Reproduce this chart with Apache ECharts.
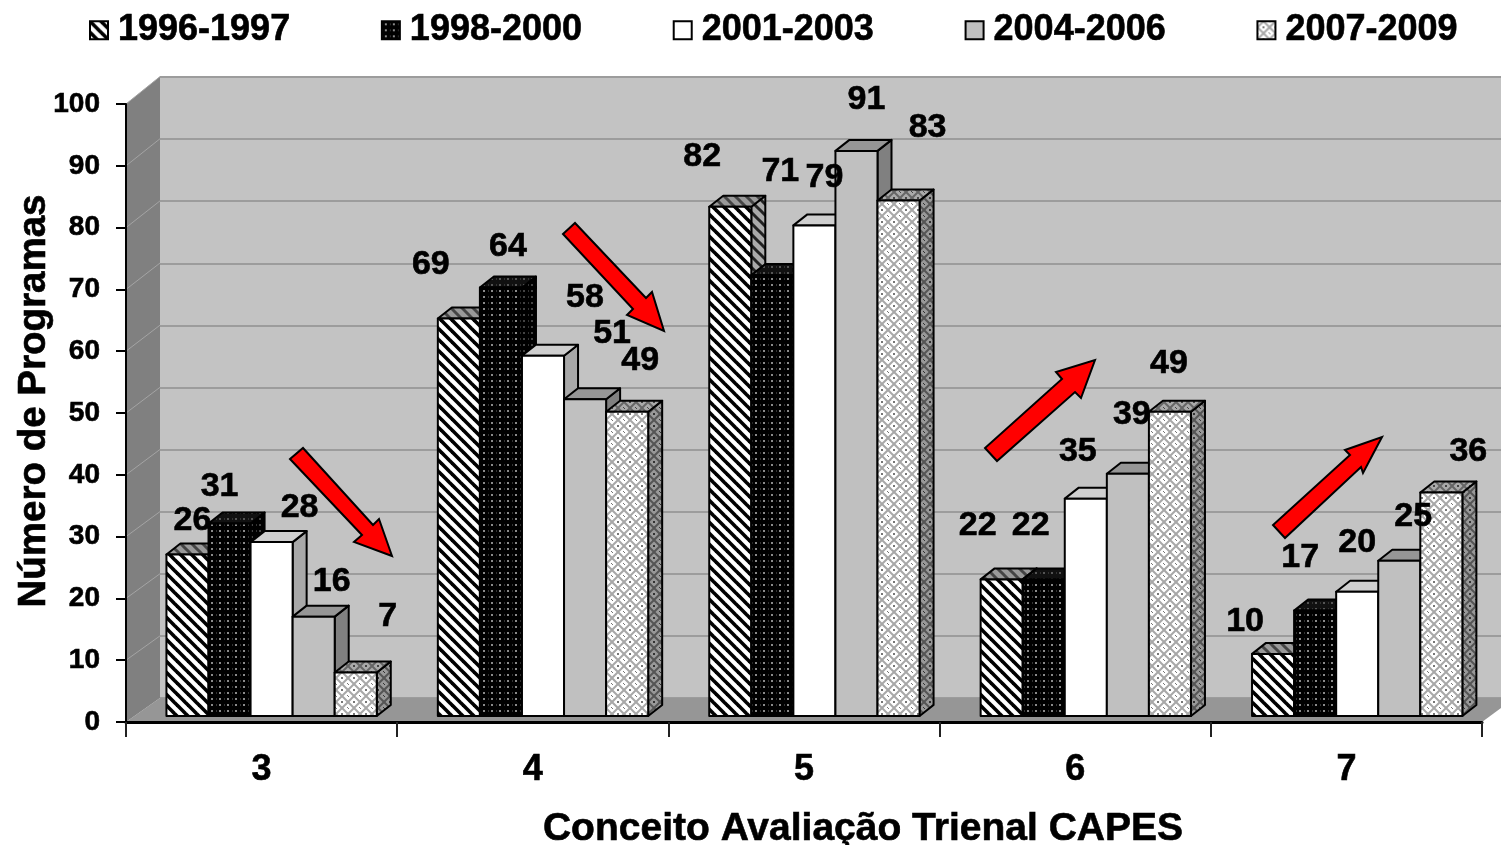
<!DOCTYPE html>
<html><head><meta charset="utf-8">
<style>html,body{margin:0;padding:0;background:#fff}#c{width:1501px;height:845px}</style>
<script src="https://cdn.jsdelivr.net/npm/echarts@6/dist/echarts.min.js"></script>
</head><body><div id="c"></div>
<script>
// ---- data ----
const categories = ['3','4','5','6','7'];
const periods = ['1996-1997','1998-2000','2001-2003','2004-2006','2007-2009'];
const tickLabels = [0,10,20,30,40,50,60,70,80,90,100];
const v1996 = [26,64,82,22,10];
const v1998 = [31,69,71,22,17];
const v2001 = [28,58,79,35,20];
const v2004 = [16,51,91,39,25];
const v2007 = [7,49,83,49,36];
// printed labels (the source prints 69 on the 64 bar and 64 on the 69 bar)
const l1996 = [26,69,82,22,10];
const l1998 = [31,64,71,22,17];
const l2001 = [28,58,79,35,20];
const l2004 = [16,51,91,39,25];
const l2007 = [7,49,83,49,36];
const values = [v1996,v1998,v2001,v2004,v2007];
const printed = [l1996,l1998,l2001,l2004,l2007];
// hand-placed label offsets from each bar's top centre [period][category]
const labelOffsets = [
 [[5,-34],[-28,-54],[-28,-50],[-24,-54],[-28,-32]],
 [[-10,-37],[7,-41],[8,-103],[-13,-54],[-15,-53]],
 [[28,-34],[42,-58],[10,-48],[-8,-47],[0,-49]],
 [[18,-35],[27,-66],[10,-51],[4,-59],[14,-44]],
 [[32,-56],[13,-51],[29,-73],[-1,-48],[27,-41]]
];
const FONT = '"Liberation Sans", Arial, sans-serif';

// ---- patterns ----
function tile(w,h,draw){const c=document.createElement('canvas');c.width=w;c.height=h;draw(c.getContext('2d'),w,h);return {image:c,repeat:'repeat'};}
function stripes(bg,fg,lw){return tile(11,11,(g,w,h)=>{g.fillStyle=bg;g.fillRect(0,0,w,h);g.strokeStyle=fg;g.lineWidth=lw;
  for(let i=-1;i<=1;i++){g.beginPath();g.moveTo(i*w-2,-2);g.lineTo(i*w+w+2,h+2);g.stroke();}});}
function dots(bg,fg){return tile(8,6,(g,w,h)=>{g.fillStyle=bg;g.fillRect(0,0,w,h);g.fillStyle=fg;g.fillRect(3,2,2,2);g.fillStyle='#333';g.fillRect(0,2,1,2);});}
function mesh(bg,fg,dot){return tile(12,12,(g,w,h)=>{g.fillStyle=bg;g.fillRect(0,0,w,h);g.strokeStyle=fg;g.lineWidth=2;
  [[0,6,6,0],[6,0,12,6],[12,6,6,12],[6,12,0,6]].forEach(p=>{g.beginPath();g.moveTo(p[0],p[1]);g.lineTo(p[2],p[3]);g.stroke();});
  g.fillStyle=dot;g.fillRect(5,5,2,2);g.fillRect(0,0,1,1);g.fillRect(11,11,1,1);});}
const faces = [
 {front:stripes('#fff','#000',3.6), side:stripes('#aaa','#222',3), top:stripes('#999','#444',3)},
 {front:dots('#000','#8a8a8a'), side:dots('#000','#444'), top:dots('#111','#555')},
 {front:'#ffffff', side:'#a8a8a8', top:'#cfcfcf'},
 {front:'#c0c0c0', side:'#808080', top:'#969696'},
 {front:mesh('#fff','#a8a8a8','#777'), side:mesh('#999','#555','#333'), top:mesh('#aaa','#666','#444')}
];

// ---- 3D drawing ----
const DEPTH_X = 14, DEPTH_Y = -11;
function barRender(s){
  return function(params, api){
    const c = api.value(0), v = api.value(1);
    const band = api.size([1,0])[0];
    const w = band*0.155;
    const pTop = api.coord([c,v]), pBase = api.coord([c,0]);
    const x0 = pTop[0] + band*0.0365 - 2.5*w + s*w, x1 = x0 + w;
    const yT = pTop[1], yB = pBase[1];
    const f = faces[s];
    const line = {stroke:'#000', lineWidth:2, lineJoin:'round'};
    const poly = (pts, fill) => ({type:'polygon', shape:{points:pts}, style:Object.assign({fill:fill}, line)});
    const off = labelOffsets[s][c];
    return {type:'group', children:[
      poly([[x1,yT],[x1+DEPTH_X,yT+DEPTH_Y],[x1+DEPTH_X,yB+DEPTH_Y],[x1,yB]], f.side),
      poly([[x0,yT],[x0+DEPTH_X,yT+DEPTH_Y],[x1+DEPTH_X,yT+DEPTH_Y],[x1,yT]], f.top),
      poly([[x0,yT],[x1,yT],[x1,yB],[x0,yB]], f.front),
      {type:'text', z2:100, x:(x0+x1)/2+off[0], y:yT+off[1],
       style:{text:String(printed[s][c]), fill:'#000', font:'bold 34px '+FONT, align:'center', verticalAlign:'middle', stroke:'#000', lineWidth:0.6}}
    ]};
  };
}
function wallRender(params, api){
  const band = api.size([1,0])[0];
  const front = v => { const p = api.coord([0,v]); return [p[0]-band/2, p[1]]; };
  const b0 = front(0), t0 = front(100);
  const backOf = p => [p[0]+34, p[1]-24-(b0[1]-p[1])*0.0055];
  const r0 = [b0[0]+band*5, b0[1]];
  const children = [];
  children.push({type:'polygon', shape:{points:[b0,backOf(b0),[1501,backOf(b0)[1]],[1501,708],r0]}, style:{fill:'#969696'}});
  children.push({type:'polygon', shape:{points:[t0,backOf(t0),backOf(b0),b0]}, style:{fill:'#808080'}});
  tickLabels.forEach(t=>{ if(t===0) return; const p=front(t); const q=backOf(p);
    children.push({type:'line', shape:{x1:p[0],y1:p[1],x2:q[0],y2:q[1]}, style:{stroke:'#a4a4a4',lineWidth:1}});});
  return {type:'group', children};
}
const barSeries = periods.map((name,s)=>({
  name, type:'custom', xAxisIndex:2, yAxisIndex:2,
  renderItem:barRender(s), clip:false, silent:true,
  itemStyle:{color:faces[s].front, borderColor:'#000', borderWidth:1},
  encode:{x:0,y:1},
  data:values[s].map((v,c)=>[c,v])
}));

// ---- arrows (annotations) ----
const arrowShapes = [
 [[290,459],[303,448],[373,525],[379,519],[392,556],[354,542],[362,535]],
 [[563,234],[575,223],[646,298],[652,292],[664,331],[627,315],[633,309]],
 [[985,448],[997,461],[1075,392],[1081,398],[1095,360],[1056,372],[1062,379]],
 [[1273,525],[1285,538],[1361,467],[1363,473],[1382,437],[1345,450],[1350,455]]
];

const heavy = {textBorderColor:'#000', textBorderWidth:0.6};
const axisLabel = Object.assign({color:'#000', fontFamily:FONT, fontWeight:'bold'}, heavy);
const chart = echarts.init(document.getElementById('c'), null, {renderer:'canvas'});
chart.setOption({
  animation:false,
  backgroundColor:'#fff',
  legend:{
    data:periods.map(n=>({name:n, icon:'rect'})), left:84, top:7, itemWidth:18, itemHeight:18, itemGap:90.4,
    selectedMode:false, textStyle:Object.assign({color:'#000', fontFamily:FONT, fontWeight:'bold', fontSize:36, padding:[0,0,0,5]}, heavy)
  },
  grid:[
    {left:126, right:19, top:104, bottom:123, outerBoundsMode:'none'},
    {left:160, right:0, top:77, bottom:147, show:true, backgroundColor:'#c3c3c3', borderWidth:0, outerBoundsMode:'none'},
    {left:126, right:18, top:95, bottom:129, outerBoundsMode:'none'}
  ],
  xAxis:[
    {gridIndex:0, type:'category', data:categories, boundaryGap:true, z:5,
     axisLine:{lineStyle:{color:'#000',width:3}}, axisTick:{show:true,length:15,alignWithLabel:false,lineStyle:{color:'#222',width:2}},
     axisLabel:Object.assign({fontSize:36, margin:30},axisLabel),
     name:'Conceito Avaliação Trienal CAPES', nameLocation:'middle', nameGap:88, nameMoveOverlap:false,
     nameTextStyle:Object.assign({color:'#000',fontFamily:FONT,fontWeight:'bold',fontSize:39,padding:[0,0,0,118]},heavy)},
    {gridIndex:1, type:'category', data:categories, show:false},
    {gridIndex:2, type:'category', data:categories, show:false}
  ],
  yAxis:[
    {gridIndex:0, type:'value', min:0, max:100, interval:10, z:5,
     axisLine:{show:true,lineStyle:{color:'#000',width:2}}, axisTick:{show:true,length:10,lineStyle:{color:'#000',width:2}},
     splitLine:{show:false},
     axisLabel:Object.assign({fontSize:28, margin:26},axisLabel),
     name:'Número de Programas', nameLocation:'middle', nameGap:72, nameRotate:90, nameMoveOverlap:false,
     nameTextStyle:Object.assign({color:'#000',fontFamily:FONT,fontWeight:'bold',fontSize:38.5,padding:[0,0,0,24]},heavy)},
    {gridIndex:1, type:'value', min:0, max:100, interval:10,
     axisLine:{show:false}, axisTick:{show:false}, axisLabel:{show:false},
     splitLine:{show:true,lineStyle:{color:'#9c9c9c',width:2,type:'solid'}}},
    {gridIndex:2, type:'value', min:0, max:100, interval:10, show:false, splitLine:{show:false}}
  ],
  series:[{type:'custom', xAxisIndex:0, yAxisIndex:0, z:1, clip:false, silent:true, renderItem:wallRender, data:[[0,0]]}].concat(barSeries),
  graphic:arrowShapes.map(pts=>({type:'polygon', z:50, silent:true, shape:{points:pts}, style:{fill:'#ff0000',stroke:'#000',lineWidth:2}}))
});
</script></body></html>
